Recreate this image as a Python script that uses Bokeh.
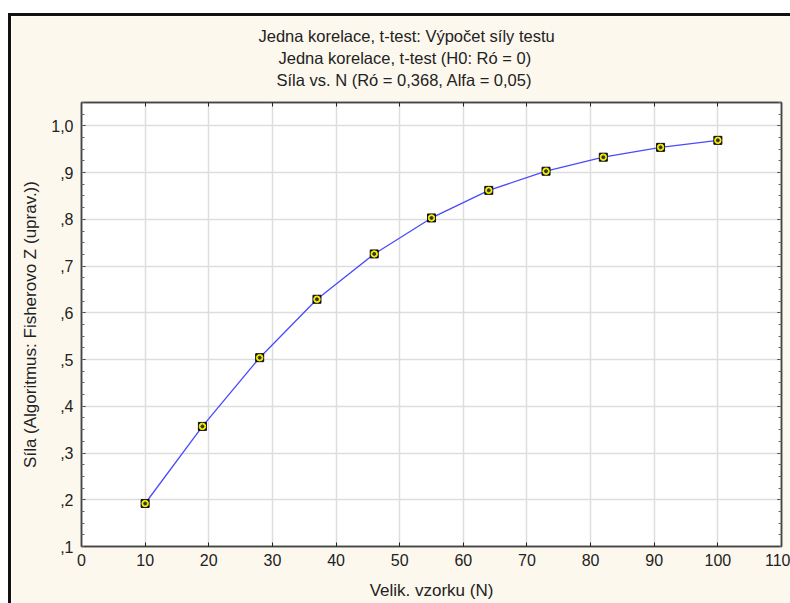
from bokeh.plotting import figure
from bokeh.models import FixedTicker, LinearAxis, Range1d, Title
from bokeh.embed import file_html
from bokeh.resources import INLINE

# Data
sample_n = [10, 19, 28, 37, 46, 55, 64, 73, 82, 91, 100]
power = [0.192, 0.357, 0.504, 0.629, 0.726, 0.803, 0.862, 0.903, 0.933, 0.954, 0.969]

x_ticks = [0, 10, 20, 30, 40, 50, 60, 70, 80, 90, 100, 110]
y_ticks = [0.1, 0.2, 0.3, 0.4, 0.5, 0.6, 0.7, 0.8, 0.9, 1.0]
y_tick_labels = [",1", ",2", ",3", ",4", ",5", ",6", ",7", ",8", ",9", "1,0"]

title_lines = [
    "Jedna korelace, t-test: Výpočet síly testu",
    "Jedna korelace, t-test (H0:  Ró =  0)",
    "Síla vs. N (Ró = 0,368,  Alfa = 0,05)",
]
x_label = "Velik. vzorku (N)"
y_label = "Síla (Algoritmus: Fisherovo Z (uprav.))"

CREAM = "#fdf8ee"
FONT = "Liberation Sans"
TXT = "#222222"

p = figure(width=779, height=587, output_backend="svg", toolbar_location=None, title=None,
           x_range=Range1d(0, 110), y_range=Range1d(0.1, 1.05),
           min_border_left=70, min_border_right=9, min_border_top=86, min_border_bottom=57)
p.frame_width = 700
p.frame_height = 444
p.background_fill_color = "white"
p.border_fill_color = CREAM
p.outline_line_color = "#444444"
p.outline_line_width = 1.5
p.styles = {"margin-left": "8px", "margin-top": "13px",
            "border-left": "3px solid #111111", "border-top": "3px solid #111111"}

minor_y = [round(0.1 + 0.025 * i, 4) for i in range(0, 39)]

# Bottom axis
xa = p.xaxis[0]
xa.ticker = FixedTicker(ticks=x_ticks)
xa.axis_label = x_label
xa.axis_label_text_font = FONT
xa.axis_label_text_font_size = "17px"
xa.axis_label_text_font_style = "normal"
xa.axis_label_text_color = TXT
xa.axis_label_standoff = 12
xa.major_label_text_font = FONT
xa.major_label_text_font_size = "16px"
xa.major_label_text_color = TXT
xa.major_label_standoff = 7
xa.major_tick_in = 4
xa.major_tick_out = 0
xa.minor_tick_in = 0
xa.minor_tick_out = 0
xa.axis_line_color = "#444444"
xa.axis_line_width = 1.5
xa.major_tick_line_color = "#222222"

# Left axis
ya = p.yaxis[0]
ya.ticker = FixedTicker(ticks=y_ticks, minor_ticks=minor_y)
ya.major_label_overrides = {t: l for t, l in zip(y_ticks, y_tick_labels)}
ya.axis_label = y_label
ya.axis_label_text_font = FONT
ya.axis_label_text_font_size = "17px"
ya.axis_label_text_font_style = "normal"
ya.axis_label_text_color = TXT
ya.axis_label_standoff = 8
ya.major_label_text_font = FONT
ya.major_label_text_font_size = "16px"
ya.major_label_text_color = TXT
ya.major_label_standoff = 8
ya.major_tick_in = 4
ya.major_tick_out = 0
ya.minor_tick_in = 3
ya.minor_tick_out = 0
ya.axis_line_color = "#444444"
ya.axis_line_width = 1.5
ya.major_tick_line_color = "#222222"
ya.minor_tick_line_color = "#666666"

# Right axis (ticks only)
ra = LinearAxis(ticker=FixedTicker(ticks=y_ticks, minor_ticks=minor_y),
                major_label_overrides={t: "" for t in y_ticks}, major_label_standoff=0,
                major_tick_in=4, major_tick_out=0, minor_tick_in=3, minor_tick_out=0,
                axis_line_color="#444444", axis_line_width=1.5,
                major_tick_line_color="#222222", minor_tick_line_color="#666666")
p.add_layout(ra, "right")

# Top axis (ticks only)
ta = LinearAxis(ticker=FixedTicker(ticks=x_ticks),
                major_label_overrides={t: "" for t in x_ticks}, major_label_standoff=0,
                major_tick_in=4, major_tick_out=0, minor_tick_in=0, minor_tick_out=0,
                axis_line_color="#444444", axis_line_width=1.5,
                major_tick_line_color="#222222")
p.add_layout(ta, "above")

# Invisible spacer between the top axis and the titles
spacer = LinearAxis(ticker=FixedTicker(ticks=x_ticks),
                    major_label_overrides={t: "" for t in x_ticks}, major_label_standoff=0,
                    major_tick_in=0, major_tick_out=12, minor_tick_in=0, minor_tick_out=0,
                    axis_line_color=None, major_tick_line_color=None, minor_tick_line_color=None)
p.add_layout(spacer, "above")

# Grid
p.xgrid.ticker = FixedTicker(ticks=x_ticks)
p.ygrid.ticker = FixedTicker(ticks=y_ticks)
p.xgrid.grid_line_color = "#dddddd"
p.ygrid.grid_line_color = "#dddddd"
p.xgrid.grid_line_width = 1.5
p.ygrid.grid_line_width = 1.5

# Data
p.line(sample_n, power, line_color="#4a4aff", line_width=1.3)
p.scatter(sample_n, power, marker="square", size=8, fill_color="#111111", line_color="#111111")
p.scatter(sample_n, power, marker="circle", size=6.5, fill_color="#f4f000", line_color="#f4f000")
p.scatter(sample_n, power, marker="circle", size=3, fill_color="#333333", line_color="#333333")

# Title lines (added bottom-up so the first line ends up on top), left-aligned with offsets
title_offsets = [177, 197, 195]
title_standoffs = [2, 2, 3]
for txt, off, so in reversed(list(zip(title_lines, title_offsets, title_standoffs))):
    p.add_layout(Title(text=txt, align="left", offset=off,
                       text_font=FONT, text_font_size="16.5px", text_font_style="normal",
                       text_color=TXT, standoff=so), "above")

open("out.html", "w").write(file_html(p, INLINE))
